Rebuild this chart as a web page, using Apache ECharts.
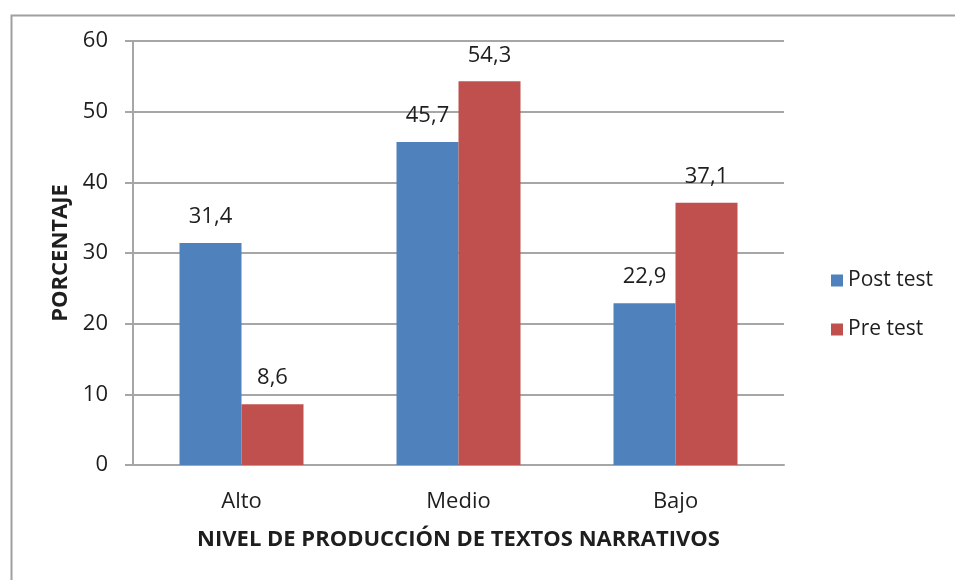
<!DOCTYPE html>
<html>
<head>
<meta charset="utf-8">
<script src="https://cdn.jsdelivr.net/npm/echarts@6/dist/echarts.min.js"></script>
<style>
  html, body { margin: 0; padding: 0; background: #fff; }
  #chart { width: 955px; height: 580px; }
</style>
</head>
<body>
<div id="chart"></div>
<script>
// datos
const niveles = ['Alto', 'Medio', 'Bajo'];
const postTest = [31.4, 45.7, 22.9];
const preTest = [8.6, 54.3, 37.1];

const fuente = '"Open Sans", "DejaVu Sans", sans-serif';
const grisEje = '#a6a6a6';
const texto = '#1e1e1e';

const chart = echarts.init(document.getElementById('chart'));

const etiqueta = {
  show: true,
  position: 'top',
  distance: 15,
  color: texto,
  fontFamily: fuente,
  fontSize: 22,
  formatter: (p) => p.value.toFixed(1).replace('.', ',')
};

const option = {
  animation: false,
  backgroundColor: '#fff',
  graphic: [{
    type: 'rect',
    left: 9,
    top: 13,
    shape: { width: 1000, height: 700 },
    style: { fill: 'none', stroke: '#a0a0a0', lineWidth: 2 },
    silent: true
  }],
  grid: {
    left: 133,
    right: 171,
    top: 41,
    bottom: 115
  },
  legend: {
    orient: 'vertical',
    left: 826,
    top: 265,
    itemWidth: 12,
    itemHeight: 12,
    itemGap: 28,
    icon: 'rect',
    textStyle: { color: texto, fontFamily: fuente, fontSize: 21 },
    data: ['Post test', 'Pre test']
  },
  xAxis: {
    type: 'category',
    data: niveles,
    name: 'NIVEL DE PRODUCCIÓN DE TEXTOS NARRATIVOS',
    nameLocation: 'middle',
    nameGap: 64,
    nameTextStyle: { color: texto, fontFamily: fuente, fontSize: 22, fontWeight: 'bold' },
    axisLine: { lineStyle: { color: grisEje, width: 2 } },
    axisTick: { show: false },
    axisLabel: { color: texto, fontFamily: fuente, fontSize: 22, margin: 26 }
  },
  yAxis: {
    type: 'value',
    min: 0,
    max: 60,
    interval: 10,
    name: 'PORCENTAJE',
    nameLocation: 'middle',
    nameGap: 61,
    nameRotate: 90,
    nameTextStyle: { color: texto, fontFamily: fuente, fontSize: 22, fontWeight: 'bold' },
    axisLine: { show: true, lineStyle: { color: grisEje, width: 2 } },
    axisTick: { show: true, length: 8, lineStyle: { color: grisEje, width: 2 } },
    axisLabel: { color: texto, fontFamily: fuente, fontSize: 22, margin: 25 },
    splitLine: { lineStyle: { color: grisEje, width: 2 } }
  },
  series: [
    {
      name: 'Post test',
      type: 'bar',
      data: postTest,
      barWidth: 62,
      barGap: '0%',
      itemStyle: { color: '#4f81bd' },
      label: etiqueta
    },
    {
      name: 'Pre test',
      type: 'bar',
      data: preTest,
      barWidth: 62,
      barGap: '0%',
      itemStyle: { color: '#c0504d' },
      label: etiqueta
    }
  ]
};

chart.setOption(option);
</script>
</body>
</html>
